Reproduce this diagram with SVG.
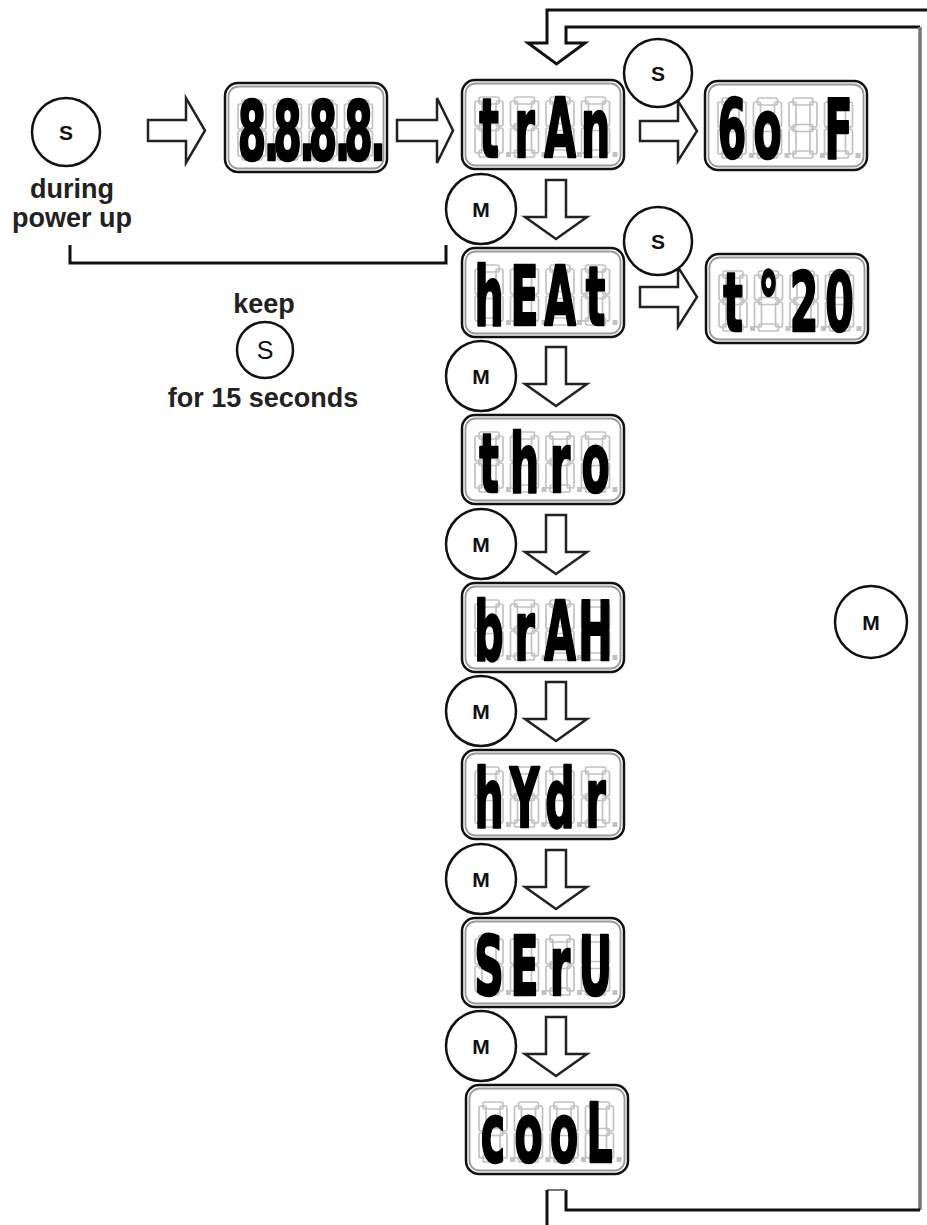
<svg xmlns="http://www.w3.org/2000/svg" width="927" height="1225" viewBox="0 0 927 1225">
<style>
.box{fill:#fff;stroke:#111;stroke-width:2.5}
.box2{fill:none;stroke:#9a9a9a;stroke-width:1.8}
.seg{fill:none;stroke:#c2c2c2;stroke-width:1.7}
.dp{fill:#c2c2c2}
.lcd{font-family:"DejaVu Sans",sans-serif;font-weight:bold;font-size:82px;fill:#000;stroke:#000;stroke-width:2.5;stroke-linejoin:round;text-anchor:middle}
.btn{fill:#fff;stroke:#111;stroke-width:2.5}
.bl{font-family:"Liberation Sans",Arial,sans-serif;font-weight:bold;font-size:21px;fill:#111;text-anchor:middle}
.lbl{font-family:"Liberation Sans",Arial,sans-serif;font-weight:bold;font-size:27px;fill:#222;text-anchor:middle}
.blk{fill:#fff;stroke:#222;stroke-width:2.5;stroke-linejoin:miter}
.ln{fill:none;stroke:#111;stroke-width:3}
.lng{fill:none;stroke:#777;stroke-width:3.5}
</style>
<defs>
<g id="dig">
<rect class="seg" x="4" y="0" width="20" height="7" rx="2"/>
<rect class="seg" x="0" y="4" width="7" height="25" rx="2"/>
<rect class="seg" x="21" y="4" width="7" height="25" rx="2"/>
<rect class="seg" x="4" y="26.5" width="20" height="7" rx="2"/>
<rect class="seg" x="0" y="31" width="7" height="25" rx="2"/>
<rect class="seg" x="21" y="31" width="7" height="25" rx="2"/>
<rect class="seg" x="4" y="53" width="20" height="7" rx="2"/>
<rect class="dp" x="31" y="55" width="5" height="5"/>
</g>
<g id="panel">
<rect class="box" x="0" y="0" width="162" height="89" rx="13"/>
<rect class="box2" x="3.5" y="3.5" width="155" height="82" rx="10"/>
<use href="#dig" x="13" y="17"/>
<use href="#dig" x="48.5" y="17"/>
<use href="#dig" x="84" y="17"/>
<use href="#dig" x="119.5" y="17"/>
</g>
</defs>

<g id="connectors">
<path class="blk" d="M148,120 H186 V98 L205,130.5 L186,163 V141 H148 Z"/>
<path class="blk" d="M397,120 H437 V98 L453,130.5 L437,163 V141 H397 Z"/>
<path class="blk" d="M640,121 H678 V101 L697,131 L678,161 V141 H640 Z"/>
<path class="blk" d="M640,287 H678 V267 L697,297 L678,327 V307 H640 Z"/>
<path class="blk" d="M546,180 H566 V217 H587 L556,239 L525,217 H546 Z"/>
<path class="blk" d="M546,347 H566 V384 H587 L556,406 L525,384 H546 Z"/>
<path class="blk" d="M546,515 H566 V552 H587 L556,574 L525,552 H546 Z"/>
<path class="blk" d="M546,682 H566 V719 H587 L556,741 L525,719 H546 Z"/>
<path class="blk" d="M546,850 H566 V887 H587 L556,909 L525,887 H546 Z"/>
<path class="blk" d="M546,1017 H566 V1054 H587 L556,1076 L525,1054 H546 Z"/>
<path class="ln" d="M70,245 V263 H446 V245"/>
<path class="ln" d="M927,10 H547 V43 H528 L556.5,64 L585,43 H566 V27 H920"/>
<path class="lng" d="M920,27 V1210"/>
<path class="ln" d="M920,1210 H566 V1190"/>
<path class="lng" d="M547,1190 H566" style="stroke-width:2"/>
<path class="ln" d="M547,1190 V1225"/>
</g>

<g id="btn-s-power">
<circle class="btn" cx="66" cy="132" r="34"/>
<text class="bl" x="66" y="139.5">S</text>
<text class="lbl" x="72" y="198">during</text>
<text class="lbl" x="72" y="227">power up</text>
</g>

<g id="keep-s">
<text class="lbl" x="264" y="313">keep</text>
<circle class="btn" cx="265" cy="350" r="28"/>
<text class="bl" x="265" y="359" style="font-weight:normal;font-size:25px">S</text>
<text class="lbl" x="263" y="407">for 15 seconds</text>
</g>

<g id="n-8888" transform="translate(225,83)">
<use href="#panel"/>
<text class="lcd" transform="scale(0.5 1)" x="54 93 125 164 196 235 267 306" y="77">8.8.8.8.</text>
</g>

<g id="n-tran" transform="translate(462,80)">
<use href="#panel"/>
<text class="lcd" transform="scale(0.5 1)" x="54 125 196 267" y="77">trAn</text>
</g>

<g id="n-6of" transform="translate(705,81)">
<use href="#panel"/>
<text class="lcd" transform="scale(0.5 1)" x="54 125 196 267" y="77">6o F</text>
</g>

<g id="n-heat" transform="translate(462,248)">
<use href="#panel"/>
<text class="lcd" transform="scale(0.5 1)" x="54 125 196 267" y="77">hEAt</text>
</g>

<g id="n-t20" transform="translate(706,254)">
<use href="#panel"/>
<text class="lcd" transform="scale(0.5 1)" x="54 125 196 267" y="77">t°20</text>
</g>

<g id="n-thro" transform="translate(462,415)">
<use href="#panel"/>
<text class="lcd" transform="scale(0.5 1)" x="54 125 196 267" y="77">thro</text>
</g>

<g id="n-brah" transform="translate(462,583)">
<use href="#panel"/>
<text class="lcd" transform="scale(0.5 1)" x="54 125 196 267" y="77">brAH</text>
</g>

<g id="n-hydr" transform="translate(462,750)">
<use href="#panel"/>
<text class="lcd" transform="scale(0.5 1)" x="54 125 196 267" y="77">hYdr</text>
</g>

<g id="n-serv" transform="translate(462,918)">
<use href="#panel"/>
<text class="lcd" transform="scale(0.5 1)" x="54 125 196 267" y="77">SErU</text>
</g>

<g id="n-cool" transform="translate(466,1085)">
<use href="#panel"/>
<text class="lcd" transform="scale(0.5 1)" x="54 125 196 267" y="77">cooL</text>
</g>

<g id="btn-s-1"><circle class="btn" cx="658" cy="73" r="34"/><text class="bl" x="658" y="80.5">S</text></g>
<g id="btn-s-2"><circle class="btn" cx="658" cy="241" r="34"/><text class="bl" x="658" y="248.5">S</text></g>
<g id="btn-m-1"><circle class="btn" cx="481" cy="209" r="35"/><text class="bl" x="481" y="216.5">M</text></g>
<g id="btn-m-2"><circle class="btn" cx="481" cy="376" r="35"/><text class="bl" x="481" y="383.5">M</text></g>
<g id="btn-m-3"><circle class="btn" cx="481" cy="544" r="35"/><text class="bl" x="481" y="551.5">M</text></g>
<g id="btn-m-4"><circle class="btn" cx="481" cy="711" r="35"/><text class="bl" x="481" y="718.5">M</text></g>
<g id="btn-m-5"><circle class="btn" cx="481" cy="879" r="35"/><text class="bl" x="481" y="886.5">M</text></g>
<g id="btn-m-6"><circle class="btn" cx="481" cy="1046" r="35"/><text class="bl" x="481" y="1053.5">M</text></g>
<g id="btn-m-loop"><circle class="btn" cx="871" cy="622" r="36"/><text class="bl" x="871" y="629.5">M</text></g>
</svg>
